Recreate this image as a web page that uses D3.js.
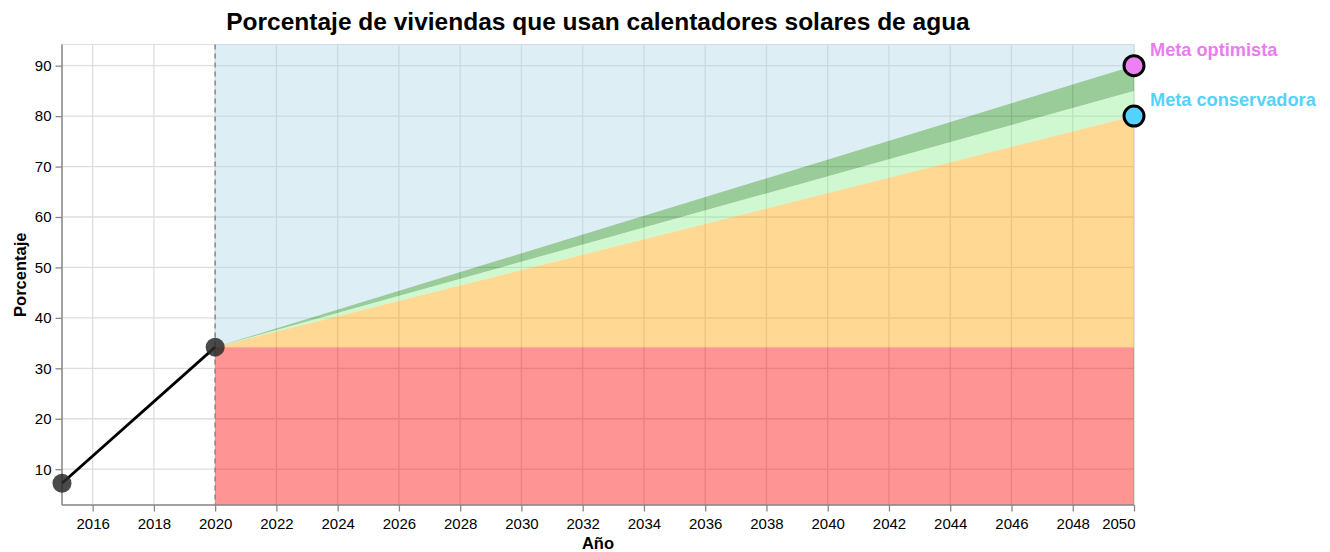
<!DOCTYPE html>
<html>
<head>
<meta charset="utf-8">
<script src="https://cdn.jsdelivr.net/npm/d3@7"></script>
<style>
  html, body { margin: 0; padding: 0; background: #fff; }
  svg { display: block; font-family: "Liberation Sans", Arial, sans-serif; }
</style>
</head>
<body>
<svg id="chart" width="1330" height="552"></svg>
<script>
// ---- Data ----
const histYears = [2015, 2020];
const histValues = [7.2, 34.2];
const goalYears = [2020, 2050];
const conservativeGoal = [34.2, 80];
const middleGoal = [34.2, 85];
const optimisticGoal = [34.2, 90];
const goalLabels = ["Meta optimista", "Meta conservadora"];
const goalValues = [90, 80];
const xTicks = [2016, 2018, 2020, 2022, 2024, 2026, 2028, 2030, 2032, 2034, 2036, 2038, 2040, 2042, 2044, 2046, 2048, 2050];
const yTicks = [10, 20, 30, 40, 50, 60, 70, 80, 90];
const titleText = "Porcentaje de viviendas que usan calentadores solares de agua";
const xTitle = "Año";
const yTitle = "Porcentaje";

// ---- Layout ----
const W = 1330, H = 552;
const m = { left: 62, top: 44.5, right: 196, bottom: 47 };
const iw = W - m.left - m.right, ih = H - m.top - m.bottom;

const svg = d3.select("#chart");
const g = svg.append("g").attr("transform", `translate(${m.left},${m.top})`);

const x = d3.scaleLinear().domain([2015, 2050]).range([0, iw]);
const y = d3.scaleLinear().domain([2.9, 94.2]).range([ih, 0]);

// grid
g.append("g").selectAll("line").data(xTicks).join("line")
  .attr("x1", d => x(d)).attr("x2", d => x(d)).attr("y1", 0).attr("y2", ih)
  .attr("stroke", "#ddd").attr("stroke-width", 1.3);
g.append("g").selectAll("line").data(yTicks).join("line")
  .attr("x1", 0).attr("x2", iw).attr("y1", d => y(d)).attr("y2", d => y(d))
  .attr("stroke", "#ddd").attr("stroke-width", 1.3);
// view border
g.append("rect").attr("x", 0).attr("y", 0).attr("width", iw).attr("height", ih)
  .attr("fill", "none").attr("stroke", "#ddd");

const op = 0.42;
const yTop = y.domain()[1], yBot = y.domain()[0];
const idx = [0, 1];

// blue region above
g.append("path")
  .datum(idx)
  .attr("d", d3.area().x(i => x(goalYears[i])).y0(i => y(optimisticGoal[i])).y1(() => y(yTop)))
  .attr("fill", "lightblue").attr("opacity", op);
// dark green band
g.append("path")
  .datum(idx)
  .attr("d", d3.area().x(i => x(goalYears[i])).y0(i => y(middleGoal[i])).y1(i => y(optimisticGoal[i])))
  .attr("fill", "green").attr("opacity", 0.4);
// light green band
g.append("path")
  .datum(idx)
  .attr("d", d3.area().x(i => x(goalYears[i])).y0(i => y(conservativeGoal[i])).y1(i => y(middleGoal[i])))
  .attr("fill", "lightgreen").attr("opacity", op);
// orange band
g.append("path")
  .datum(idx)
  .attr("d", d3.area().x(i => x(goalYears[i])).y0(() => y(histValues[1])).y1(i => y(conservativeGoal[i])))
  .attr("fill", "orange").attr("opacity", op);
// red region
g.append("path")
  .datum(idx)
  .attr("d", d3.area().x(i => x(goalYears[i])).y0(() => y(yBot)).y1(() => y(histValues[1])))
  .attr("fill", "red").attr("opacity", op);

// dashed vertical line at 2020
g.append("line")
  .attr("x1", x(2020)).attr("x2", x(2020)).attr("y1", 0).attr("y2", ih)
  .attr("stroke", "#888").attr("stroke-width", 1.5).attr("stroke-dasharray", "5,4");

// axes
const xAxis = g.append("g").attr("transform", `translate(0,${ih})`)
  .call(d3.axisBottom(x).tickValues(xTicks).tickFormat(d3.format("d")).tickSize(6.5).tickPadding(6.5));
const yAxis = g.append("g")
  .call(d3.axisLeft(y).tickValues(yTicks).tickSize(6.5).tickPadding(4));
[xAxis, yAxis].forEach(a => {
  a.select(".domain").attr("stroke", "#888").attr("stroke-width", 1.5);
  a.selectAll(".tick line").attr("stroke", "#888").attr("stroke-width", 1.3);
  a.selectAll(".tick text").attr("fill", "#000").style("font-size", "15px").style("font-family", "'Liberation Sans', Arial, sans-serif");
});
yAxis.select(".domain").attr("d", `M0,${ih}V0`);
xAxis.select(".domain").attr("d", `M0,0H${iw}`);
xAxis.selectAll(".tick text").filter(d => d === 2050).attr("text-anchor", "end").attr("dx", "1px");

// history line and points
g.append("path")
  .datum(idx)
  .attr("d", d3.line().x(i => x(histYears[i])).y(i => y(histValues[i])))
  .attr("fill", "none").attr("stroke", "#000").attr("stroke-width", 2.8);
g.selectAll(".hp").data(idx).join("circle")
  .attr("cx", i => x(histYears[i])).attr("cy", i => y(histValues[i])).attr("r", 9.5)
  .attr("fill", "#2a2a2a").attr("opacity", 0.85);

// goal points
const goalColors = ["#ee7ff4", "#55d2fb"];
const labelColors = ["#ec7bf2", "#55d2fb"];
g.selectAll(".gp").data([0, 1]).join("circle")
  .attr("cx", x(2050)).attr("cy", i => y(goalValues[i])).attr("r", 10)
  .attr("fill", i => goalColors[i]).attr("stroke", "#000").attr("stroke-width", 3);
g.selectAll(".gl").data([0, 1]).join("text")
  .attr("x", x(2050) + 16).attr("y", i => y(goalValues[i]) - 10)
  .attr("fill", i => labelColors[i])
  .style("font-size", "18.2px").style("font-weight", "bold")
  .text(i => goalLabels[i]);

// titles
svg.append("text").attr("x", m.left + iw / 2).attr("y", 30).attr("text-anchor", "middle")
  .style("font-size", "24.5px").style("font-weight", "bold").text(titleText);
svg.append("text").attr("x", m.left + iw / 2).attr("y", 549).attr("text-anchor", "middle")
  .style("font-size", "16.5px").style("font-weight", "bold").text(xTitle);
svg.append("text").attr("transform", `translate(26,${m.top + ih / 2}) rotate(-90)`).attr("text-anchor", "middle")
  .style("font-size", "16.5px").style("font-weight", "bold").text(yTitle);
</script>
</body>
</html>
